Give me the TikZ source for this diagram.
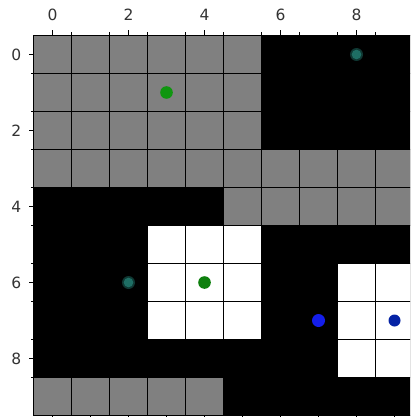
\documentclass[tikz,border=0pt]{standalone}
\usepackage{fontspec}
\setmainfont{DejaVu Sans}
\definecolor{cellgray}{RGB}{128,128,128}
\definecolor{dotgreen}{RGB}{16,150,16}
\definecolor{dotteal}{RGB}{30,110,100}
\definecolor{dotblue}{RGB}{20,30,235}
\definecolor{dotnavy}{RGB}{5,35,165}
\tikzset{
  gridline/.style={line width=1.1pt,black},
  tickmark/.style={line width=0.8pt,black},
  ticklabel/.style={inner sep=0pt,font=\fontsize{15.5}{18}\selectfont,text=black!80},
  agent/.style={fill=#1}
}
\begin{document}
\begin{tikzpicture}[x=1pt,y=-1pt]
        \def\xo{33.5}
        \def\yo{35.5}
        \def\cw{38}

        \useasboundingbox (0,0) rectangle (410,417);
        \fill[white] (0,0) rectangle (410,417);
        \clip (0,0) rectangle (410,417);

        \begin{scope}[shift={(\xo,\yo)},x=\cw pt,y=-\cw pt]
        %------------------
        % cells
        %------------------

        % black background
        \fill[black] (0,0) rectangle (10,10);

        % gray cells
        \fill[cellgray] (0,0) rectangle (6,3);
        \fill[cellgray] (0,3) rectangle (10,4);
        \fill[cellgray] (5,4) rectangle (10,5);
        \fill[cellgray] (0,9) rectangle (5,10);

        % white cells
        \fill[white] (3,5) rectangle (6,8);
        \fill[white] (8,6) rectangle (10,9);

        %------------------
        % grid
        %------------------
        \foreach \i in {1,...,9}{
          \draw[gridline] (\i,0) -- (\i,10);
          \draw[gridline] (0,\i) -- (10,\i);
        }
        \draw[tickmark] (0,0) rectangle (10,10);

        %------------------
        % ticks
        %------------------
        \foreach \i in {0,2,...,8}{
          \coordinate (cx\i) at (\i+0.5,0);
          \coordinate (cy\i) at (0,\i+0.5);
          \draw[tickmark] (cx\i) -- ++(0,5pt);
          \draw[tickmark] (cy\i) -- ++(-4.5pt,0);
          \node[ticklabel,anchor=base] (tx\i) at ([yshift=15pt]cx\i) {\i};
          \node[ticklabel,anchor=east] (ty\i) at ([xshift=-12pt]cy\i) {\i};
        }
        \foreach \i in {1,...,9}{
          \draw[tickmark] (\i,0) -- ++(0,3pt);
          \draw[tickmark] (0,\i) -- ++(-3pt,0);
        }
        \foreach \i in {0,1,...,9}{
          \draw[tickmark] (\i+0.5,10) -- ++(0,-5pt);
        }

        %------------------
        % agents
        %------------------
        \fill[agent=dotgreen] (3.5,1.5) circle (6.3pt);
        \fill[agent=dotgreen!85!black] (4.5,6.5) circle (6.3pt);
        \fill[agent=dotteal!50!black] (8.5,0.5) circle (6.5pt);
        \fill[agent=dotteal] (8.5,0.5) circle (4.8pt);
        \fill[agent=dotteal!50!black] (2.5,6.5) circle (6.5pt);
        \fill[agent=dotteal] (2.5,6.5) circle (4.8pt);
        \fill[agent=dotblue] (7.5,7.5) circle (6.5pt);
        \fill[agent=dotnavy] (9.5,7.5) circle (6pt);
        \end{scope}
      \end{tikzpicture}
\end{document}
